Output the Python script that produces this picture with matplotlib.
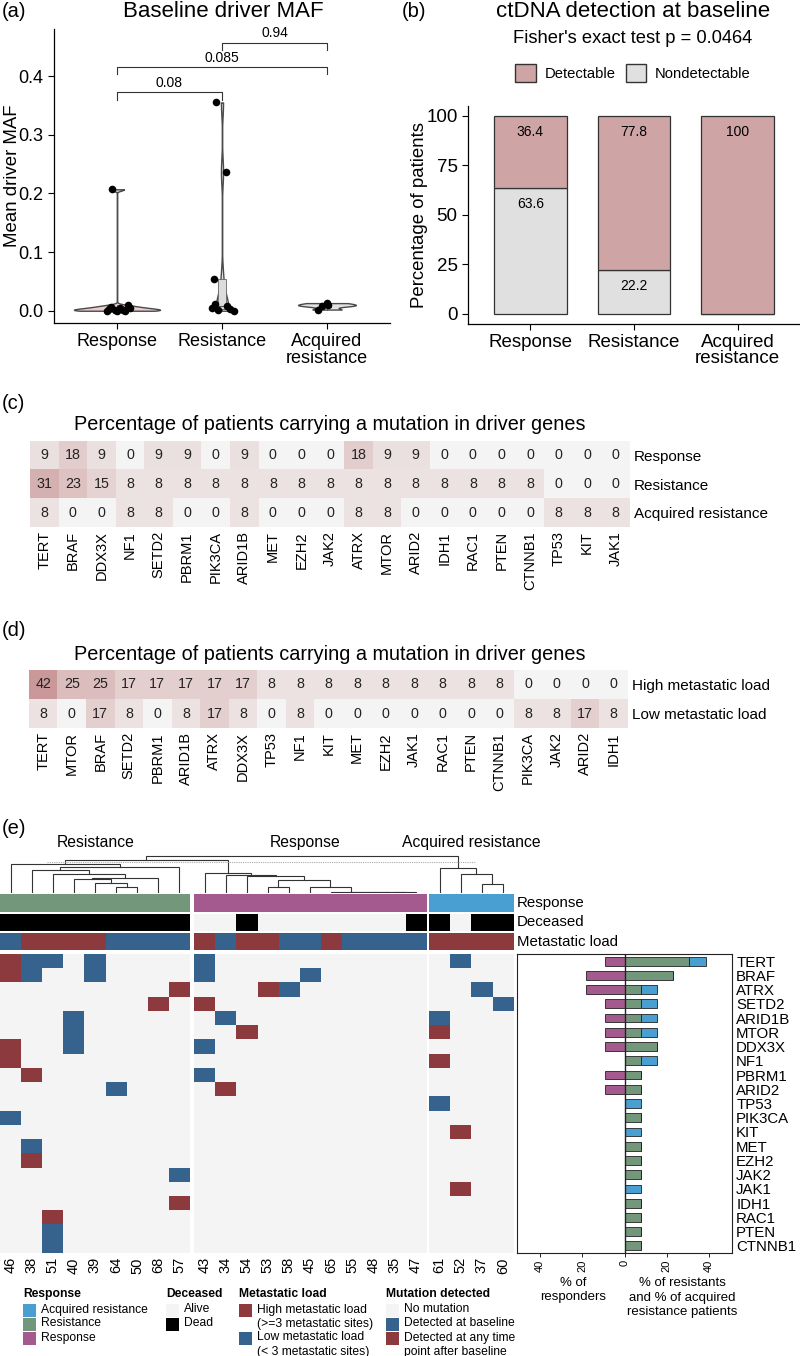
import numpy as np
import matplotlib
matplotlib.use("Agg")
import matplotlib.pyplot as plt
from matplotlib.colors import ListedColormap, LinearSegmentedColormap
from matplotlib.patches import Rectangle, Patch

plt.rcParams['font.family'] = ['Liberation Sans', 'DejaVu Sans']
plt.rcParams['axes.linewidth'] = 0.9

# ---------------- DATA ----------------
# Panel (a)
groups = ["Response", "Resistance", "Acquired\nresistance"]
maf_response = [0.207, 0.009, 0.007, 0.005, 0.004, 0.003, 0.002, 0.001, 0.0, 0.0, 0.0]
maf_resistance = [0.355, 0.237, 0.054, 0.011, 0.008, 0.005, 0.003, 0.001, 0.0]
maf_acquired = [0.013, 0.010, 0.008, 0.002]
p_pairs = [(1, 2), (1, 3), (2, 3)]
p_values = ["0.08", "0.085", "0.94"]

# Panel (b)
pct_detectable = [36.4, 77.8, 100.0]
pct_nondetectable = [63.6, 22.2, 0.0]
fisher_p = "0.0464"

# Panel (c)
genes_c = ["TERT", "BRAF", "DDX3X", "NF1", "SETD2", "PBRM1", "PIK3CA", "ARID1B", "MET", "EZH2", "JAK2",
           "ATRX", "MTOR", "ARID2", "IDH1", "RAC1", "PTEN", "CTNNB1", "TP53", "KIT", "JAK1"]
rows_c = ["Response", "Resistance", "Acquired resistance"]
c_response = [9, 18, 9, 0, 9, 9, 0, 9, 0, 0, 0, 18, 9, 9, 0, 0, 0, 0, 0, 0, 0]
c_resistance = [31, 23, 15, 8, 8, 8, 8, 8, 8, 8, 8, 8, 8, 8, 8, 8, 8, 8, 0, 0, 0]
c_acquired = [8, 0, 0, 8, 8, 0, 0, 8, 0, 0, 0, 8, 8, 0, 0, 0, 0, 0, 8, 8, 8]

# Panel (d)
genes_d = ["TERT", "MTOR", "BRAF", "SETD2", "PBRM1", "ARID1B", "ATRX", "DDX3X", "TP53", "NF1", "KIT",
           "MET", "EZH2", "JAK1", "RAC1", "PTEN", "CTNNB1", "PIK3CA", "JAK2", "ARID2", "IDH1"]
rows_d = ["High metastatic load", "Low metastatic load"]
d_high = [42, 25, 25, 17, 17, 17, 17, 17, 8, 8, 8, 8, 8, 8, 8, 8, 8, 0, 0, 0, 0]
d_low = [8, 0, 17, 8, 0, 8, 17, 8, 0, 8, 0, 0, 0, 0, 0, 0, 0, 8, 8, 17, 8]

# Panel (e)
res_ids = [46, 38, 51, 40, 39, 64, 50, 68, 57]
resp_ids = [43, 34, 54, 53, 58, 45, 65, 55, 48, 35, 47]
acq_ids = [61, 52, 37, 60]
dead_ids = [46, 38, 51, 40, 39, 64, 50, 68, 57, 54, 47, 61, 37, 60]
high_load_ids = [38, 51, 40, 39, 43, 54, 53, 65, 61, 52, 37, 60]
onco_genes = ["TERT", "BRAF", "ATRX", "SETD2", "ARID1B", "MTOR", "DDX3X", "NF1", "PBRM1", "ARID2", "TP53",
              "PIK3CA", "KIT", "MET", "EZH2", "JAK2", "JAK1", "IDH1", "RAC1", "PTEN", "CTNNB1"]
mut_baseline = {"TERT": [38, 51, 39, 43, 52], "BRAF": [38, 39, 43, 45], "ATRX": [58, 37], "SETD2": [60],
                "ARID1B": [40, 34, 61], "MTOR": [40], "DDX3X": [40, 43], "NF1": [], "PBRM1": [43],
                "ARID2": [64], "TP53": [61], "PIK3CA": [46], "KIT": [], "MET": [38], "EZH2": [],
                "JAK2": [57], "JAK1": [], "IDH1": [], "RAC1": [], "PTEN": [51], "CTNNB1": [51]}
mut_after = {"TERT": [46], "BRAF": [46], "ATRX": [57, 53], "SETD2": [68, 43], "ARID1B": [],
             "MTOR": [54, 61], "DDX3X": [46], "NF1": [46, 61], "PBRM1": [38], "ARID2": [34], "TP53": [],
             "PIK3CA": [], "KIT": [52], "MET": [], "EZH2": [38], "JAK2": [], "JAK1": [52], "IDH1": [57],
             "RAC1": [51], "PTEN": [], "CTNNB1": []}
# dendrogram merges (left id, right id, height); leaves 0..23, new clusters 24..
dendro_merges = [(5, 6, 18), (4, 24, 31), (3, 25, 41), (26, 7, 46), (2, 27, 58), (1, 28, 70), (29, 8, 78),
                 (0, 30, 88),
                 (18, 19, 3), (17, 32, 3), (16, 33, 3), (15, 34, 3), (14, 35, 18), (12, 13, 18), (37, 36, 38),
                 (11, 38, 50), (10, 39, 55), (9, 40, 61),
                 (22, 23, 26), (21, 42, 58), (20, 43, 75),
                 (31, 41, 100), (45, 44, 111)]
dendro_cut = 93
group_names = ["Resistance", "Response", "Acquired resistance"]

pct_responders = [9.1, 18.2, 18.2, 9.1, 9.1, 9.1, 9.1, 0, 9.1, 9.1, 0, 0, 0, 0, 0, 0, 0, 0, 0, 0, 0]
pct_resistance = [30.8, 23.1, 7.7, 7.7, 7.7, 7.7, 15.4, 7.7, 7.7, 7.7, 0, 7.7, 0, 7.7, 7.7, 7.7, 0, 7.7, 7.7, 7.7, 7.7]
pct_acquired = [7.7, 0, 7.7, 7.7, 7.7, 7.7, 0, 7.7, 0, 0, 7.7, 0, 7.7, 0, 0, 0, 7.7, 0, 0, 0, 0]

# ---------------- STYLE ----------------
col_resp = '#a45a8e'
col_res = '#73977a'
col_acq = '#4a9fd2'
col_high = '#8c3a3d'
col_low = '#36628e'
col_none = '#f4f4f4'
col_det = '#cfa4a5'
col_nondet = '#e0e0e0'

W, H = 800, 1356
fig = plt.figure(figsize=(W / 100, H / 100), dpi=100)


def px_axes(x0, y0, x1, y1):
    return fig.add_axes([x0 / W, 1 - y1 / H, (x1 - x0) / W, (y1 - y0) / H])


def ftext(x, y, s, **kw):
    return fig.text(x / W, 1 - y / H, s, **kw)


def nrd0(x):
    x = np.asarray(x, float)
    sd = np.std(x, ddof=1)
    q75, q25 = np.percentile(x, [75, 25])
    lo = min(sd, (q75 - q25) / 1.34)
    if lo <= 0:
        lo = sd
    return 0.9 * lo * len(x) ** -0.2


# ---------------- PANEL (a) ----------------
ax = px_axes(54, 29, 390, 323)
maf_sets = [maf_response, maf_resistance, maf_acquired]
v_widths = [0.82, 0.12, 0.55]
v_faces = ['#ebcccc', '#e2e2e2', '#e2e2e2']
jitters = [[-0.05, 0.1, -0.06, 0.03, 0.12, -0.08, 0.06, -0.02, 0.08, -0.1, 0.0],
           [-0.06, 0.04, -0.08, -0.07, 0.05, -0.1, 0.08, -0.04, 0.11],
           [0.0, 0.01, -0.05, -0.09]]
for i, vals in enumerate(maf_sets):
    vals = np.asarray(vals)
    bw = nrd0(vals) / np.std(vals, ddof=1)
    parts = ax.violinplot([vals], positions=[i + 1], widths=v_widths[i], bw_method=bw,
                          showextrema=False, points=400)
    for b in parts['bodies']:
        b.set_facecolor(v_faces[i])
        b.set_edgecolor('#4a4a4a')
        b.set_linewidth(1.0)
        b.set_alpha(1)
    ax.boxplot([vals], positions=[i + 1], widths=0.07, patch_artist=True, showfliers=False,
               showcaps=False, boxprops=dict(facecolor='#dcdcdc', edgecolor='#666', lw=0.6),
               medianprops=dict(color='#555', lw=0.8), whiskerprops=dict(color='#555', lw=0.6),
               manage_ticks=False)
    ax.scatter(np.full(len(vals), i + 1) + np.array(jitters[i]), vals, s=30, color='black', zorder=5,
               linewidths=0)
bracket_y = [0.372, 0.415, 0.457]
for (a, b), lab, y in zip(p_pairs, p_values, bracket_y):
    ax.plot([a, a, b, b], [y - 0.012, y, y, y - 0.012], color='#333', lw=0.8)
    ax.text((a + b) / 2, y + 0.004, lab, ha='center', va='bottom', fontsize=10)
ax.set_xlim(0.4, 3.6)
ax.set_ylim(-0.0209, 0.4802)
ax.set_yticks([0, 0.1, 0.2, 0.3, 0.4])
ax.set_yticklabels(['0.0', '0.1', '0.2', '0.3', '0.4'])
ax.set_xticks([1, 2, 3])
ax.set_xticklabels(groups, fontsize=13, linespacing=0.95)
ax.tick_params(axis='x', labelsize=13, length=4, width=0.8)
ax.tick_params(axis='y', labelsize=13, length=4, width=0.8)
ax.set_ylabel('Mean driver MAF', fontsize=13.4)
ax.yaxis.set_label_coords((21 - 54) / 336, 0.5)
for s in ['top', 'right']:
    ax.spines[s].set_visible(False)
ftext(223, 17, 'Baseline driver MAF', fontsize=16, ha='center', va='baseline')
ftext(2, 17, '(a)', fontsize=14.5, ha='left', va='baseline')

# ---------------- PANEL (b) ----------------
ax = px_axes(468, 105.8, 800, 323.6)
xb = np.arange(1, 4)
ax.bar(xb, pct_nondetectable, width=0.7, color=col_nondet, edgecolor='#333', lw=0.9)
ax.bar(xb, pct_detectable, width=0.7, bottom=pct_nondetectable, color=col_det, edgecolor='#333', lw=0.9)
for x, nd, d in zip(xb, pct_nondetectable, pct_detectable):
    ax.text(x, nd + d - 8, f'{d:g}', ha='center', va='center', fontsize=10)
    if nd > 0:
        ax.text(x, nd - 8, f'{nd:g}', ha='center', va='center', fontsize=10)
ax.set_xlim(0.4, 3.6)
ax.set_ylim(-5, 105)
ax.set_yticks([0, 25, 50, 75, 100])
ax.set_xticks(xb)
ax.set_xticklabels(groups, fontsize=13, linespacing=0.95)
ax.tick_params(labelsize=13.5, length=4, width=0.8)
ax.set_ylabel('Percentage of patients', fontsize=13.4)
ax.yaxis.set_label_coords((428 - 468) / 332, 0.5)
for s in ['top', 'right']:
    ax.spines[s].set_visible(False)
ftext(633, 17, 'ctDNA detection at baseline', fontsize=16, ha='center', va='baseline')
ftext(633, 43, "Fisher's exact test p = " + fisher_p, fontsize=13.2, ha='center', va='baseline')
ftext(402, 17, '(b)', fontsize=14.5, ha='left', va='baseline')
handles = [Patch(facecolor=col_det, edgecolor='#333', label='Detectable'),
           Patch(facecolor=col_nondet, edgecolor='#333', label='Nondetectable')]
fig.legend(handles=handles, loc='center', bbox_to_anchor=(633 / W, 1 - 73 / H), ncol=2, frameon=False,
           fontsize=10.6, handlelength=1.4, handleheight=1.4, columnspacing=0.7, handletextpad=0.6)

heat_cmap = LinearSegmentedColormap.from_list('pk', ['#f5f4f4', '#c58c8c'])


def heat(ax, mat, cols, rows):
    mat = np.asarray(mat)
    ax.imshow(mat, cmap=heat_cmap, vmin=0, vmax=48, aspect='auto', interpolation='nearest')
    for r in range(mat.shape[0]):
        for c in range(mat.shape[1]):
            ax.text(c, r, str(mat[r, c]), ha='center', va='center', fontsize=10.3, color='#222')
    ax.set_xticks(range(len(cols)))
    ax.set_xticklabels(cols, rotation=90, fontsize=10.5)
    ax.set_yticks(range(len(rows)))
    ax.set_yticklabels(rows, fontsize=11)
    ax.yaxis.tick_right()
    ax.tick_params(length=0, pad=3)
    for s in ax.spines.values():
        s.set_visible(False)


# ---------------- PANEL (c) ----------------
ax = px_axes(30, 441, 630, 527)
heat(ax, [c_response, c_resistance, c_acquired], genes_c, rows_c)
ftext(2, 409, '(c)', fontsize=14.5, ha='left', va='baseline')
ftext(330, 430, 'Percentage of patients carrying a mutation in driver genes', fontsize=14.3,
      ha='center', va='baseline')

# ---------------- PANEL (d) ----------------
ax = px_axes(29, 670, 628, 728)
heat(ax, [d_high, d_low], genes_d, rows_d)
ftext(2, 636, '(d)', fontsize=14.5, ha='left', va='baseline')
ftext(330, 660, 'Percentage of patients carrying a mutation in driver genes', fontsize=14.3,
      ha='center', va='baseline')

# ---------------- PANEL (e) ----------------
ftext(2, 834, '(e)', fontsize=14.5, ha='left', va='baseline')
blocks = [res_ids, resp_ids, acq_ids]
block_cols = [col_res, col_resp, col_acq]
block_x0 = [0, 194, 429]
col_w = 21.1
hm_top, hm_bot = 954, 1253
ann_rows = [(894, 912), (913.5, 931), (933, 950.5)]
group_label_x = [96, 305, 471]

for bi, ids in enumerate(blocks):
    x0 = block_x0[bi]
    x1 = x0 + col_w * len(ids)
    n = len(ids)
    # annotation: response group
    a = px_axes(x0, ann_rows[0][0], x1, ann_rows[0][1])
    a.imshow(np.zeros((1, n)), cmap=ListedColormap([block_cols[bi]]), aspect='auto')
    a.axis('off')
    # deceased
    a = px_axes(x0, ann_rows[1][0], x1, ann_rows[1][1])
    a.imshow(np.array([[1 if p in dead_ids else 0 for p in ids]]), cmap=ListedColormap([col_none, 'black']),
             vmin=0, vmax=1, aspect='auto')
    a.axis('off')
    # metastatic load
    a = px_axes(x0, ann_rows[2][0], x1, ann_rows[2][1])
    a.imshow(np.array([[1 if p in high_load_ids else 0 for p in ids]]), cmap=ListedColormap([col_low, col_high]),
             vmin=0, vmax=1, aspect='auto')
    a.axis('off')
    # mutation matrix
    mat = np.zeros((len(onco_genes), n))
    for gi, g in enumerate(onco_genes):
        for pi, p in enumerate(ids):
            if p in mut_baseline[g]:
                mat[gi, pi] = 1
            elif p in mut_after[g]:
                mat[gi, pi] = 2
    a = px_axes(x0, hm_top, x1, hm_bot)
    a.imshow(mat, cmap=ListedColormap([col_none, col_low, col_high]), vmin=-0.5, vmax=2.5, aspect='auto',
             interpolation='nearest')
    a.set_xticks(range(n))
    a.set_xticklabels([str(p) for p in ids], rotation=90, fontsize=10.5)
    a.set_yticks([])
    a.tick_params(length=0, pad=3)
    for s in a.spines.values():
        s.set_visible(False)
    ftext(group_label_x[bi], 847, group_names[bi], fontsize=11.3, ha='center', va='baseline')

# annotation row labels
for lab, (y0, y1) in zip(['Response', 'Deceased', 'Metastatic load'], ann_rows):
    ftext(517, (y0 + y1) / 2, lab, fontsize=10.8, ha='left', va='center')

# dendrogram
ad = px_axes(0, 850, 513.4, 893)
leaf_x = []
for bi, ids in enumerate(blocks):
    for i in range(len(ids)):
        leaf_x.append(block_x0[bi] + (i + 0.5) * col_w)
xs = {i: leaf_x[i] for i in range(len(leaf_x))}
hs = {i: 0.0 for i in range(len(leaf_x))}
nl = len(leaf_x)
for k, (l, r, h) in enumerate(dendro_merges):
    ad.plot([xs[l], xs[l], xs[r], xs[r]], [hs[l], h, h, hs[r]], color='#333', lw=0.8,
            solid_joinstyle='miter')
    xs[nl + k] = (xs[l] + xs[r]) / 2
    hs[nl + k] = h
ad.plot([47, 475], [dendro_cut, dendro_cut], color='#aaaaaa', lw=0.8, ls=(0, (1, 1)))
ad.set_xlim(0, 513.4)
ad.set_ylim(0, 129)
ad.axis('off')

# side bar chart
ab = px_axes(517, hm_top, 732, hm_bot)
yy = np.arange(len(onco_genes))
bh = 0.62
ab.barh(yy, -np.array(pct_responders), height=bh, color=col_resp, edgecolor='#222', lw=0.6)
ab.barh(yy, pct_resistance, height=bh, color=col_res, edgecolor='#222', lw=0.6)
ab.barh(yy, pct_acquired, left=pct_resistance, height=bh, color=col_acq, edgecolor='#222', lw=0.6)
ab.axvline(0, color='#222', lw=1.0)
ab.set_ylim(len(onco_genes) - 0.5, -0.5)
ab.set_xlim(-51, 51)
ab.set_xticks([-40, -20, 0, 20, 40])
ab.set_xticklabels(['40', '20', '0', '20', '40'], rotation=90, fontsize=8)
ab.tick_params(axis='x', length=3, width=0.6, pad=2)
ab.yaxis.tick_right()
ab.set_yticks(yy)
ab.set_yticklabels(onco_genes, fontsize=10.8)
ab.tick_params(axis='y', length=0, pad=3)
for s in ab.spines.values():
    s.set_linewidth(0.8)
    s.set_color('#222')
ftext(573, 1290, '% of\nresponders', fontsize=9.5, ha='center', va='center', linespacing=1.25)
ftext(682, 1297.5, '% of resistants\nand % of acquired\nresistance patients', fontsize=9.5, ha='center',
      va='center', linespacing=1.25)

# ---------------- LEGEND (e) ----------------
al = px_axes(0, 1280, 800, 1356)
al.set_xlim(0, 800)
al.set_ylim(1356, 1280)
al.axis('off')
leg_groups = [
    (23, 'Response', [(col_acq, ['Acquired resistance']), (col_res, ['Resistance']), (col_resp, ['Response'])]),
    (166, 'Deceased', [(col_none, ['Alive']), ('black', ['Dead'])]),
    (239, 'Metastatic load', [(col_high, ['High metastatic load', '(>=3 metastatic sites)']),
                              (col_low, ['Low metastatic load', '(< 3 metastatic sites)'])]),
    (386, 'Mutation detected', [(col_none, ['No mutation']), (col_low, ['Detected at baseline']),
                                (col_high, ['Detected at any time', 'point after baseline'])]),
]
row_h = 14.0
for x0, title, items in leg_groups:
    al.text(x0, 1294, title, fontsize=8.7, fontweight='bold', ha='left', va='center')
    y = 1310
    for col, lines in items:
        al.add_patch(Rectangle((x0, y - 6.5), 13, 13, facecolor=col, edgecolor='none'))
        for j, ln in enumerate(lines):
            al.text(x0 + 18, y + j * row_h - 0.5, ln, fontsize=8.7, ha='left', va='center')
        y += row_h * len(lines)

fig.savefig('out.png', dpi=100)
